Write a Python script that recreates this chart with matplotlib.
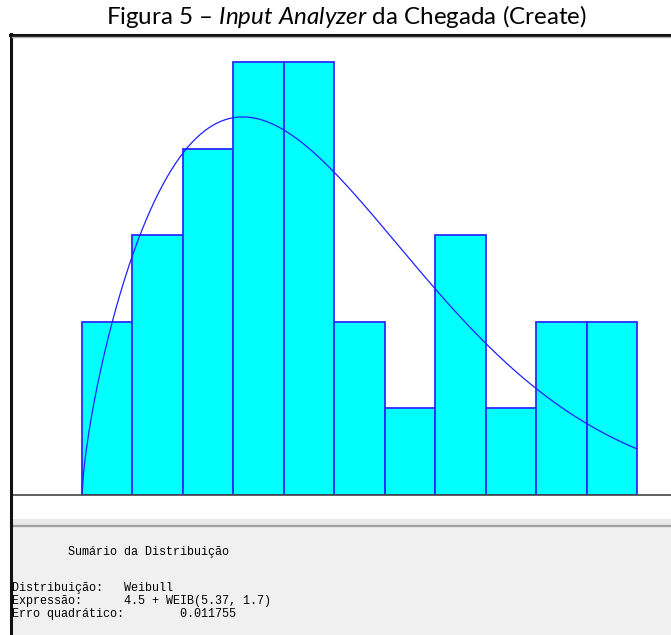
import numpy as np
import matplotlib.pyplot as plt
from matplotlib.patches import Rectangle
from matplotlib.lines import Line2D

# frequencias observadas por classe (largura 1, a partir de 4.5)
freq = [2, 3, 4, 5, 5, 2, 1, 3, 1, 2, 2]
x_inicio = 4.5
largura = 1.0

# parametros do ajuste: 4.5 + WEIB(5.37, 1.7)
loc = 4.5
beta = 5.37
alpha = 1.7
erro = 0.011755

titulo = "Figura 5 \u2013 $\\it{Input\\ Analyzer}$ da Chegada (Create)"
linhas_resumo = [
    "        Sumário da Distribuição",
    "",
    "Distribuição:   Weibull",
    "Expressão:      4.5 + WEIB(%g, %g)" % (beta, alpha),
    "Erro quadrático:        %.6f" % erro,
]

# italico do titulo na mesma familia do resto
plt.rcParams["mathtext.fontset"] = "custom"
plt.rcParams["mathtext.rm"] = "Lato"
plt.rcParams["mathtext.it"] = "Lato:italic"

W, H = 671, 635
fig = plt.figure(figsize=(W / 100, H / 100), dpi=100)
fig.patch.set_facecolor("white")


def fx(px):
    return px / W


def fy(py):
    return 1 - py / H


# painel cinza do resumo
fig.patches.append(Rectangle((fx(12), 0), 1 - fx(12), fy(519), transform=fig.transFigure,
                             facecolor="#e9e9e9", edgecolor="none", zorder=0))
fig.patches.append(Rectangle((fx(12), 0), 1 - fx(12), fy(527), transform=fig.transFigure,
                             facecolor="#f0f0f0", edgecolor="none", zorder=1))
fig.lines.append(Line2D([fx(12), 1], [fy(525.5), fy(525.5)], transform=fig.transFigure,
                        color="#a0a0a0", lw=1.6, zorder=2))

# moldura da janela
fig.lines.append(Line2D([fx(11), fx(11)], [0, fy(34)], transform=fig.transFigure,
                        color="#111111", lw=2.2, zorder=5))
fig.lines.append(Line2D([fx(10), 1], [fy(35), fy(35)], transform=fig.transFigure,
                        color="#111111", lw=2.2, zorder=5))
fig.lines.append(Line2D([fx(12), 1], [fy(37.3), fy(37.3)], transform=fig.transFigure,
                        color="#b0b0b0", lw=1.0, zorder=5))

fig.text(fx(346), fy(17), titulo, ha="center", va="center", fontsize=17.4,
         family="Lato", color="black")

# area do histograma
ax = fig.add_axes([fx(12), fy(495), fx(671) - fx(12), fy(38) - fy(495)])
ax.set_facecolor("white")
px_unit = 555 / 11.0
ax.set_xlim(x_inicio - (82 - 12) / px_unit, x_inicio + (671 - 82) / px_unit)
ax.set_ylim(0, (495 - 38) / 86.6)

bordas = x_inicio + largura * np.arange(len(freq))
ax.bar(bordas, freq, width=largura, align="edge", color="#00ffff",
       edgecolor="#2b2bff", linewidth=1.3, zorder=2)

# densidade ajustada, escalada para contagens
n = sum(freq)
x = np.linspace(loc, x_inicio + largura * len(freq), 400)
t = (x - loc) / beta
dens = (alpha / beta) * t ** (alpha - 1) * np.exp(-t ** alpha)
ax.plot(x, dens * n * largura, color="#2020ff", lw=0.9, zorder=3)

for s in ["top", "right", "left"]:
    ax.spines[s].set_visible(False)
ax.spines["bottom"].set_color("#444444")
ax.spines["bottom"].set_linewidth(1.2)
ax.spines["bottom"].set_zorder(4)
ax.set_xticks([])
ax.set_yticks([])

# texto do resumo
y0 = [552, 0, 588, 601, 614]
for yy, linha in zip(y0, linhas_resumo):
    if linha:
        fig.text(fx(12), fy(yy), linha, ha="left", va="center", fontsize=8.5,
                 family="Liberation Mono", color="black", zorder=6)

fig.savefig("out.png", dpi=100)
